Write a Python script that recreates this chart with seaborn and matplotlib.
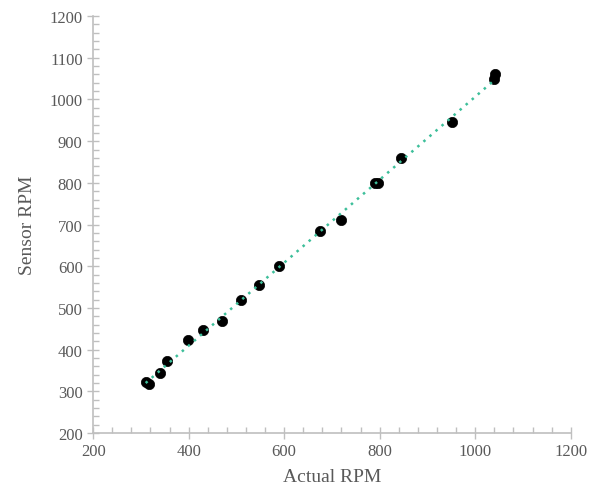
import numpy as np
import pandas as pd
import seaborn as sns
import matplotlib.pyplot as plt
from matplotlib.ticker import MultipleLocator

# valores
actual_rpm = [310, 318, 340, 355, 398, 430, 470, 510, 548, 590, 675, 718, 790, 797, 845, 952, 1040, 1042]
sensor_rpm = [322, 318, 345, 373, 423, 447, 468, 518, 555, 600, 685, 710, 800, 800, 860, 945, 1050, 1060]

df = pd.DataFrame({"actual": actual_rpm, "sensor": sensor_rpm})

sns.set_style("white")
plt.rcParams['font.family'] = ['Liberation Serif', 'DejaVu Serif']

cinza = '#595959'
eixo = '#bfbfbf'

fig = plt.figure(figsize=(5.97, 4.89), dpi=100)
ax = fig.add_axes([0.156, 0.1125, 0.8, 0.8525])

# linha de tendencia linear
coef = np.polyfit(df["actual"], df["sensor"], 1)
xs = np.array([df["actual"].min(), df["actual"].max()])
ax.plot(xs, np.polyval(coef, xs), linestyle=(0, (1, 2.2)), color='#3dbf9a', linewidth=1.8, zorder=3)

sns.scatterplot(data=df, x="actual", y="sensor", ax=ax, color='black', s=55,
                edgecolor='black', linewidth=0.5, zorder=2)

ax.set_xlim(200, 1200)
ax.set_ylim(200, 1200)
ax.xaxis.set_major_locator(MultipleLocator(200))
ax.xaxis.set_minor_locator(MultipleLocator(40))
ax.yaxis.set_major_locator(MultipleLocator(100))
ax.yaxis.set_minor_locator(MultipleLocator(20))

for s in ['top', 'right']:
    ax.spines[s].set_visible(False)
for s in ['left', 'bottom']:
    ax.spines[s].set_color(eixo)
    ax.spines[s].set_linewidth(1.2)

ax.tick_params(which='major', direction='inout', length=8, width=1, color=eixo,
               labelsize=12, labelcolor=cinza, bottom=True, left=True)
ax.tick_params(which='minor', direction='in', length=4, width=1, color=eixo,
               bottom=True, left=True)

ax.set_xlabel("Actual RPM", fontsize=14, color=cinza, labelpad=6)
ax.set_ylabel("Sensor RPM", fontsize=14, color=cinza, labelpad=10)

fig.savefig("out.png", dpi=100)
